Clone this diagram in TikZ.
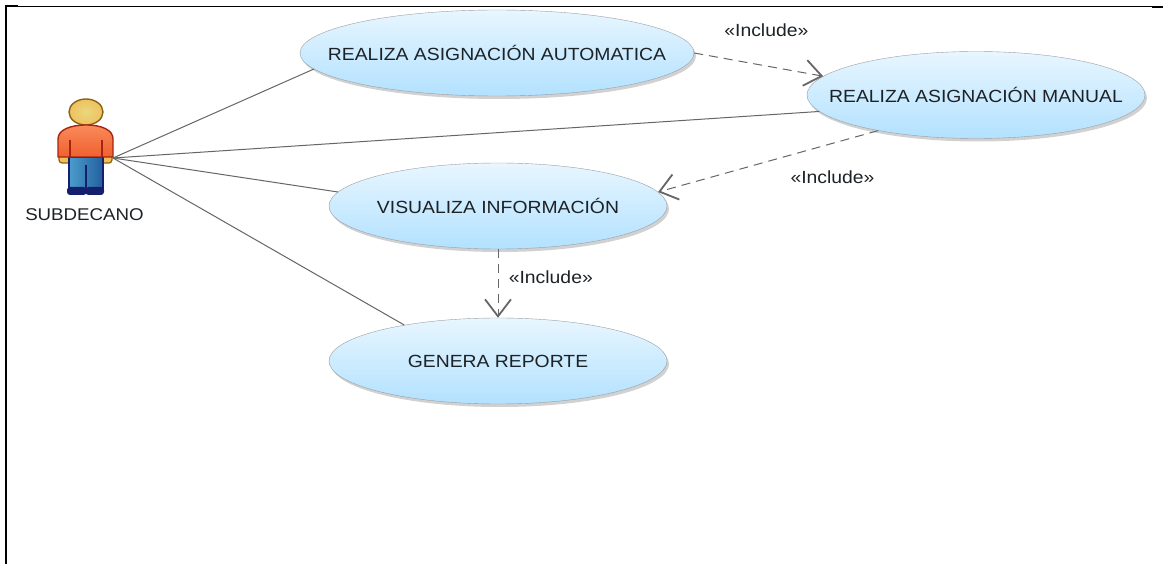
\documentclass[tikz,border=0pt]{standalone}
\usepackage{fontspec}
\setmainfont{Liberation Sans}[FakeStretch=1.1]
\usepackage{tikz}
\usetikzlibrary{arrows.meta, positioning, shapes, shadows}
\definecolor{caseline}{HTML}{9A9FA3}
\definecolor{casetop}{HTML}{E8F6FF}
\definecolor{casebottom}{HTML}{B2E1FF}
\definecolor{linkline}{HTML}{666666}
\definecolor{inktext}{HTML}{1C2226}
\definecolor{headtop}{HTML}{EAD77E}
\definecolor{headedge}{HTML}{8A6414}
\definecolor{shirttop}{HTML}{FA8A5A}
\definecolor{shirtbottom}{HTML}{F0602F}
\definecolor{shirtedge}{HTML}{A82410}
\definecolor{legleft}{HTML}{4C9CCC}
\definecolor{legright}{HTML}{22609E}
\definecolor{legedge}{HTML}{14206E}
\tikzset{
  usecase/.style={ellipse, draw=caseline, top color=casetop, bottom color=casebottom, inner xsep=-40pt, inner ysep=0pt, text=inktext,
    font=\fontsize{17.6}{20}\selectfont,
    drop shadow={shadow xshift=2pt, shadow yshift=-3pt, fill=black, opacity=.18}},
  assoc/.style={draw=linkline, line width=1pt},
  includes/.style={draw=linkline, line width=1pt, dash pattern=on 9pt off 6pt, -{Straight Barb[length=17pt, width=26pt, line width=1.8pt]}},
  stereo/.style={text=inktext, font=\fontsize{17.6}{20}\selectfont},
}
\begin{document}
\begin{tikzpicture}[x=1pt, y=-1pt]
    \useasboundingbox (0,0) rectangle (1163,564);
    \fill[white] (0,0) rectangle (1163,564);
    \fill[black] (5,6) rectangle (1163,7);
    \fill[black] (5,5.5) rectangle (18,7);
    \fill[black] (1152,6) rectangle (1163,7.6);
    \fill[black] (5,6) rectangle (7,564);

    \node (auto) [usecase, minimum width=394pt, minimum height=86pt] at (497,53) {REALIZA ASIGNACIÓN AUTOMATICA};
    \node (manual) [usecase, minimum width=338pt, minimum height=87pt] at (976,95) {REALIZA ASIGNACIÓN MANUAL};
    \node (visualiza) [usecase, minimum width=338pt, minimum height=86pt] at (498,206) {VISUALIZA INFORMACIÓN};
    \node (reporte) [usecase, minimum width=338pt, minimum height=86pt] at (498,361) {GENERA REPORTE};

    \filldraw[fill=headtop!70!orange, draw=headedge, line width=1.2pt, rounded corners=3pt] (59,152) rectangle (112,163);
    \shade[inner color=headtop, outer color=headtop!75!orange, draw=headedge, line width=1.4pt] (86,112) ellipse (17 and 13);
    \shade[left color=legleft, right color=legright, draw=legedge, line width=1.4pt] (69,157) rectangle (103,190);
    \draw[legedge, line width=1.8pt] (86,165) -- (86,190);
    \fill[legedge, rounded corners=3pt] (67,187) rectangle (86.5,195);
    \fill[legedge, rounded corners=3pt] (85.5,187) rectangle (104,195);
    \shade[top color=shirttop, bottom color=shirtbottom, draw=shirtedge, line width=1.4pt]
      (58,157) -- (58,139) .. controls (58,130) and (70,125) .. (86,125) .. controls (102,125) and (113,130) .. (113,139) -- (113,157) -- cycle;
    \draw[shirtedge, line width=1.4pt] (70,140) -- (70,157) (102,140) -- (102,157);
    \coordinate (hand) at (113,158);
    \node (subdecano) [text=inktext, font=\fontsize{17}{20}\selectfont] at (84.5,215) {SUBDECANO};

    \draw[assoc] (hand) -- (auto.185.3);
    \draw[assoc] (hand) -- (manual.186.2);
    \draw[assoc] (hand) -- (visualiza.175.5);
    \draw[assoc] (hand) -- (reporte.159);

    \draw[includes] (auto.east) -- node[stereo, pos=.35, above=15pt, xshift=27pt, yshift=6pt] {«Include»} (manual.173.8);
    \draw[includes] (manual.200.6) -- node[stereo, pos=.33, below=13pt, xshift=27pt, yshift=-3pt] {«Include»} (visualiza.5);
    \draw[includes] (visualiza.south) -- node[stereo, midway, right=7pt, yshift=6pt] {«Include»} (reporte.north);
\end{tikzpicture}
\end{document}
